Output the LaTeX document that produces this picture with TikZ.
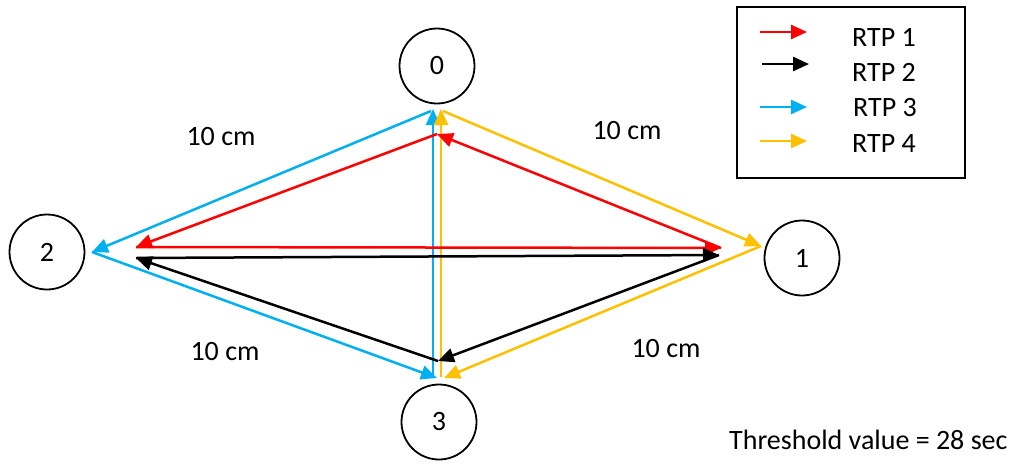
\documentclass[tikz,border=0pt]{standalone}
\usepackage{fontspec}
\setmainfont{Carlito}
\usetikzlibrary{arrows.meta}
\definecolor{rtpred}{RGB}{255,0,0}
\definecolor{rtpcyan}{RGB}{0,176,240}
\definecolor{rtpyellow}{RGB}{255,192,0}
\begin{document}
\begin{tikzpicture}[x=1pt,y=-1pt,
  every node/.style={font=\fontsize{28}{34}\selectfont},
  station/.style={draw,circle,line width=1.8pt,minimum size=75pt,inner sep=0pt},
  route/.style={line width=2.5pt,-{Triangle[length=16pt,width=14pt]}},
  lab/.style={inner sep=0pt}]
\useasboundingbox (0,0) rectangle (1026,464);
% stations
\node[station] (n0) at (437,66) {0};
\node[station] (n1) at (802,258) {1};
\node[station] (n2) at (47,252) {2};
\node[station] (n3) at (439,422) {3};
% end points
\coordinate (r0) at (437,134);
\coordinate (r1) at (721,248);
\coordinate (r2) at (136,247);
\coordinate (b1) at (719,255);
\coordinate (b2) at (136,258);
\coordinate (b3) at (438,361);
\coordinate (c0) at (433,109);
\coordinate (c0s) at (431,111);
\coordinate (c2) at (92,252);
\coordinate (c3) at (437,378);
\coordinate (c3s) at (433,377);
\coordinate (y0) at (441,109);
\coordinate (y0s) at (443,111);
\coordinate (y1) at (761,246);
\coordinate (y3) at (444,378);
\coordinate (y3s) at (441,377);
% RTP 3 (cyan)
\draw[route,rtpcyan] (c3s) -- (c0);
\draw[route,rtpcyan] (c0s) -- (c2);
\draw[route,rtpcyan] (c2) -- (c3);
% RTP 4 (yellow)
\draw[route,rtpyellow] (y0s) -- (y1);
\draw[route,rtpyellow] (y1) -- (y3);
\draw[route,rtpyellow] (y3s) -- (y0);
% RTP 1 (red)
\draw[route,rtpred] (r2) -- (r1);
\draw[route,rtpred] (r1) -- (r0);
\draw[route,rtpred] (r0) -- (r2);
% RTP 2 (black)
\draw[route,black] (b2) -- (b1);
\draw[route,black] (b1) -- (b3);
\draw[route,black] (b3) -- (b2);
% distance labels
\node[lab] (d02) at (221,137) {10 cm};
\node[lab] (d01) at (627,131) {10 cm};
\node[lab] (d23) at (225,352) {10 cm};
\node[lab] (d13) at (666,349) {10 cm};
% legend
\node[draw,line width=1.5pt,minimum width=228pt,minimum height=171pt,inner sep=0pt] (legend) at (851,92.5) {};
\coordinate (l1a) at (760,32); \coordinate (l1b) at (807,32);
\coordinate (l2a) at (762,64); \coordinate (l2b) at (809,64);
\coordinate (l3a) at (760,107); \coordinate (l3b) at (807,107);
\coordinate (l4a) at (760,141); \coordinate (l4b) at (807,141);
\draw[route,rtpred] (l1a) -- (l1b);
\draw[route,black] (l2a) -- (l2b);
\draw[route,rtpcyan] (l3a) -- (l3b);
\draw[route,rtpyellow] (l4a) -- (l4b);
\node[lab,anchor=west] (t1) at (852,37) {RTP 1};
\node[lab,anchor=west] (t2) at (852,72) {RTP 2};
\node[lab,anchor=west] (t3) at (853,108) {RTP 3};
\node[lab,anchor=west] (t4) at (852,144) {RTP 4};
% threshold
\node[lab,anchor=west] (thr) at (729,440) {Threshold value = 28 sec};
\end{tikzpicture}
\end{document}
